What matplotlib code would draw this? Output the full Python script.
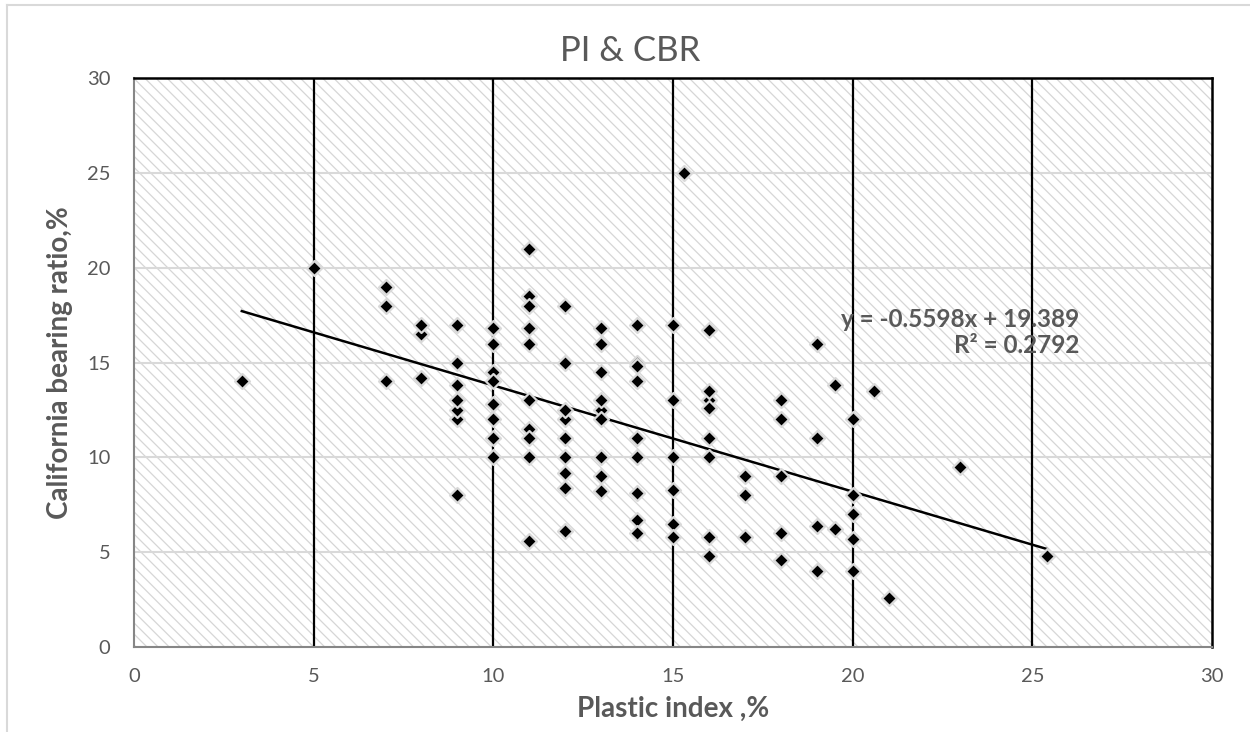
import numpy as np
import matplotlib
matplotlib.use('Agg')
import matplotlib.pyplot as plt
from matplotlib.lines import Line2D

plt.rcParams['font.family'] = ['Lato', 'DejaVu Sans']
plt.rcParams['hatch.linewidth'] = 0.9

# plastic index / CBR pairs (drawing order kept so overlaps look like the original)
pi = [3, 5,
      7, 7, 7,
      8, 8, 8,
      9, 9, 9, 9, 9, 9, 9,
      10, 10, 10, 10, 10, 10, 10, 10,
      11, 11, 11, 11, 11, 11, 11, 11, 11, 11,
      12, 12, 12, 12, 12, 12, 12, 12, 12,
      13, 13, 13, 13, 13, 13, 13, 13, 13,
      14, 14, 14, 14, 14, 14, 14, 14, 14,
      15.3, 15, 15, 15, 15, 15, 15,
      16, 16, 16, 16, 16, 16, 16, 16,
      17, 17, 17,
      18, 18, 18, 18, 18,
      19, 19, 19, 19,
      19.5, 19.5,
      20, 20, 20, 20, 20,
      20.6, 21, 23, 25.4]
cbr = [14, 20,
       19, 18, 14,
       16.5, 17, 14.2,
       12, 12.5, 13, 13.8, 15, 17, 8,
       14.5, 14, 16.8, 16, 12.8, 12, 11, 10,
       21, 18.5, 18, 16.8, 16, 13, 11.5, 11, 10, 5.6,
       18, 15, 12, 12.5, 11, 10, 9.2, 8.4, 6.1,
       16.8, 16, 14.5, 12.5, 13, 12, 10, 9, 8.2,
       17, 15, 14.8, 14, 11, 10, 8.1, 6.7, 6,
       25, 17, 13, 10, 8.3, 6.5, 5.8,
       16.7, 13, 13.5, 12.6, 11, 10, 5.8, 4.8,
       9, 8, 5.8,
       13, 12, 9, 6, 4.6,
       16, 11, 6.4, 4,
       13.8, 6.2,
       12, 8, 7, 5.7, 4,
       13.5, 2.6, 9.5, 4.8]

slope = -0.5598
intercept = 19.389
r2 = 0.2792

x_ticks = [0, 5, 10, 15, 20, 25, 30]
y_ticks = [0, 5, 10, 15, 20, 25, 30]

grey_txt = '#595959'

fig = plt.figure(figsize=(12.5, 7.32), dpi=100)
ax = fig.add_axes([134 / 1250, 85 / 732, 1078 / 1250, 569 / 732])

# hatched plot area
ax.patch.set_facecolor('white')
ax.patch.set_edgecolor('#d6d6d6')
ax.patch.set_hatch('\\\\\\')
ax.patch.set_linewidth(0)

ax.set_xlim(0, 30)
ax.set_ylim(0, 30)
ax.set_xticks(x_ticks)
ax.set_yticks(y_ticks)

for v in y_ticks[1:-1]:
    ax.axhline(v, color='#d9d9d9', lw=1.5, zorder=1)
for v in x_ticks[1:-1]:
    ax.axvline(v, color='black', lw=1.6, zorder=1.5)

x_fit = np.array([min(pi), max(pi)])
ax.plot(x_fit, slope * x_fit + intercept, color='black', lw=1.8, zorder=2)

ax.scatter(pi, cbr, marker='D', s=58, color='black', edgecolors='#d9d9d9',
           linewidths=1.6, zorder=3)

ax.text(26.3, 16.6, 'y = {}x + {}\nR² = {}'.format(slope, intercept, r2),
        ha='right', va='center', fontsize=17.5, fontweight='bold', color=grey_txt,
        linespacing=1.15, multialignment='right', zorder=4)

for s in ['left', 'bottom']:
    ax.spines[s].set_color('#868686')
    ax.spines[s].set_linewidth(1.5)
for s in ['top', 'right']:
    ax.spines[s].set_color('black')
    ax.spines[s].set_linewidth(1.8)

ax.tick_params(length=0, labelsize=14.5, labelcolor=grey_txt)
ax.tick_params(axis='y', pad=17)
ax.tick_params(axis='x', pad=15)

ax.set_xlabel('Plastic index ,%', fontsize=20, fontweight='bold', color=grey_txt, labelpad=8)
ax.set_ylabel('California bearing ratio,%', fontsize=20, fontweight='bold', color=grey_txt, labelpad=10)

fig.text(630 / 1250, 1 - 51 / 732, 'PI & CBR', ha='center', va='center', fontsize=25, color=grey_txt)

# chart area border
fig.add_artist(Line2D([7 / 1250, 1], [1 - 5 / 732, 1 - 5 / 732], color='#d9d9d9', lw=1.5))
fig.add_artist(Line2D([7 / 1250, 7 / 1250], [0, 1 - 5 / 732], color='#d9d9d9', lw=1.5))

fig.savefig('out.png', dpi=100)
